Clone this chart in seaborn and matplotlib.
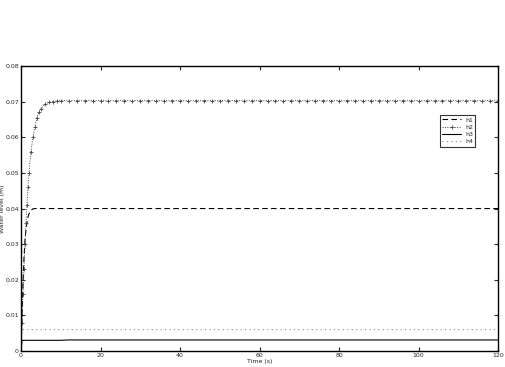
import matplotlib
matplotlib.use("Agg")
import matplotlib.pyplot as plt
import seaborn as sns
import pandas as pd

# Time samples (s)
t_start = [0, 0.25, 0.5, 0.75, 1, 1.25, 1.5, 1.75, 2, 2.5, 3, 3.5, 4, 4.5, 5, 6, 7, 8, 9, 10]
t_tail = [12, 14, 16, 18, 20, 22, 24, 26, 28, 30, 32, 34, 36, 38, 40, 42, 44, 46, 48, 50,
          52, 54, 56, 58, 60, 62, 64, 66, 68, 70, 72, 74, 76, 78, 80, 82, 84, 86, 88, 90,
          92, 94, 96, 98, 100, 102, 104, 106, 108, 110, 112, 114, 116, 118, 120]
time = t_start + t_tail

h1_start = [0, 0.010, 0.019, 0.026, 0.031, 0.034, 0.036, 0.0375, 0.0385, 0.0395, 0.0399, 0.040,
            0.040, 0.040, 0.040, 0.040, 0.040, 0.040, 0.040, 0.040]
h2_start = [0, 0.008, 0.016, 0.023, 0.030, 0.036, 0.041, 0.046, 0.050, 0.056, 0.060, 0.063,
            0.0655, 0.067, 0.068, 0.0693, 0.0698, 0.070, 0.0703, 0.0703]
h3_start = [0, 0.003, 0.003, 0.003, 0.003, 0.003, 0.003, 0.003, 0.003, 0.003, 0.003, 0.003,
            0.003, 0.003, 0.003, 0.003, 0.003, 0.003, 0.003, 0.003]
h4_start = [0, 0.006, 0.006, 0.006, 0.006, 0.006, 0.006, 0.006, 0.006, 0.006, 0.006, 0.006,
            0.006, 0.006, 0.006, 0.006, 0.006, 0.006, 0.006, 0.006]
h1_tail = [0.040] * len(t_tail)
h2_tail = [0.0703] * len(t_tail)
h3_tail = [0.0031] * len(t_tail)
h4_tail = [0.006] * len(t_tail)

h1 = h1_start + h1_tail
h2 = h2_start + h2_tail
h3 = h3_start + h3_tail
h4 = h4_start + h4_tail

labels = ["h1", "h2", "h3", "h4"]
x_ticks = [0, 20, 40, 60, 80, 100, 120]
y_ticks = [0, 0.01, 0.02, 0.03, 0.04, 0.05, 0.06, 0.07, 0.08]
y_tick_labels = ["0", "0.01", "0.02", "0.03", "0.04", "0.05", "0.06", "0.07", "0.08"]

df = pd.DataFrame({"time": time, "h1": h1, "h2": h2, "h3": h3, "h4": h4})

sns.set_style("white")
plt.rcParams["font.family"] = ["DejaVu Sans"]

fig = plt.figure(figsize=(5.06, 3.67), dpi=100)
ax = fig.add_axes([0.0415, 0.0436, 0.943, 0.7764])

sns.lineplot(data=df, x="time", y="h1", ax=ax, color="black", linestyle=(0, (5, 3)),
             linewidth=0.8, label=labels[0])
sns.lineplot(data=df, x="time", y="h2", ax=ax, color="#444444", linestyle=(0, (1, 1.5)),
             linewidth=0.7, marker="+", markersize=3.5, markeredgewidth=0.6,
             markeredgecolor="#444444", label=labels[1])
sns.lineplot(data=df, x="time", y="h3", ax=ax, color="black", linestyle="-",
             linewidth=0.8, label=labels[2])
sns.lineplot(data=df, x="time", y="h4", ax=ax, color="#888888", linestyle=(0, (1, 3)),
             linewidth=0.8, label=labels[3])

ax.set_xlim(0, 120)
ax.set_ylim(0, 0.08)
ax.set_xticks(x_ticks)
ax.set_xticklabels([str(v) for v in x_ticks])
ax.set_yticks(y_ticks)
ax.set_yticklabels(y_tick_labels)
ax.tick_params(direction="in", length=3, width=0.8, labelsize=4.5, top=True, right=True,
               bottom=True, left=True, pad=1.5)
for s in ax.spines.values():
    s.set_color("black")
    s.set_linewidth(1.0)
ax.set_xlabel("Time (s)", fontsize=4.5, labelpad=1)
ax.set_ylabel("Water level (m)", fontsize=4.5)
ax.yaxis.set_label_coords(-0.033, 0.5)

leg = ax.legend(loc="upper right", bbox_to_anchor=(0.959, 0.84), fontsize=4.5,
                frameon=True, fancybox=False, edgecolor="black", handlelength=3,
                borderpad=0.4, labelspacing=0.3, handletextpad=0.6)
leg.get_frame().set_linewidth(0.8)

fig.savefig("out.png", dpi=100)
